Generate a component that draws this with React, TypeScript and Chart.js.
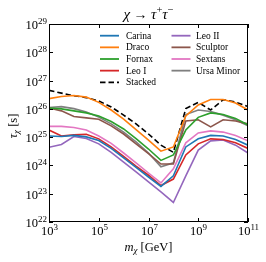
import { useEffect, useRef } from "react";
import { Chart, registerables } from "chart.js";

Chart.register(...registerables);

// Dark-matter mass grid (GeV)
const MASSES = [1e3, 3.16e3, 1e4, 3.16e4, 1e5, 3.16e5, 1e6, 3.16e6, 1e7, 3.16e7, 1e8, 3.16e8, 1e9, 3.16e9, 1e10, 3.16e10, 1e11];

// Lifetime limits tau_chi (s)
const CARINA = [1.1e25, 1.05e25, 1.15e25, 1.02e25, 7.6e24, 4.0e24, 1.86e24, 8.5e23, 3.9e23, 1.82e23, 4.3e23, 4.5e24, 8.7e24, 1.15e25, 1.1e25, 8.3e24, 5.2e24];
const DRACO = [2.3e26, 2.75e26, 2.95e26, 2.6e26, 1.7e26, 9.1e25, 4.3e25, 1.86e25, 7.9e24, 3.2e24, 4.5e24, 5.6e25, 1.38e26, 2.14e26, 2.14e26, 1.62e26, 9.1e25];
const FORNAX = [1.07e26, 1.0e26, 8.5e25, 7.2e25, 5.6e25, 3.55e25, 1.95e25, 8.9e24, 3.8e24, 1.51e24, 2.35e24, 1.78e25, 5.0e25, 7.2e25, 6.3e25, 4.6e25, 2.7e25];
const LEO_I = [1.78e25, 1.1e25, 1.2e25, 1.26e25, 8.7e24, 4.5e24, 2.1e24, 9.5e23, 4.5e23, 1.95e23, 3.3e23, 2.35e24, 5.8e24, 8.7e24, 8.3e24, 6.3e24, 4.0e24];
const LEO_II = [4.4e24, 5.5e24, 1.05e25, 8.9e24, 5.8e24, 2.9e24, 1.32e24, 5.9e23, 2.6e23, 1.15e23, 4.9e22, 4.3e23, 3.5e24, 7.4e24, 7.9e24, 5.2e24, 2.75e24];
const SCULPTOR = [1.07e26, 8.5e25, 5.4e25, 4.8e25, 4.3e25, 2.5e25, 1.29e25, 5.8e24, 2.6e24, 1.12e24, 1.12e24, 3.7e25, 4.1e25, 2.3e25, 4.1e25, 3.7e25, 2.95e25];
const SEXTANS = [2.4e25, 2.4e25, 2.2e25, 1.78e25, 1.1e25, 6.0e24, 2.75e24, 1.23e24, 5.4e23, 2.4e23, 7.6e23, 6.3e24, 1.41e25, 1.66e25, 1.51e25, 1.15e25, 7.4e24];
const URSA_MINOR = [1.12e26, 1.2e26, 1.02e26, 7.8e25, 5.1e25, 2.95e25, 1.51e25, 6.8e24, 2.75e24, 9.0e23, 1.23e24, 6.3e25, 9.1e25, 8.1e25, 6.0e25, 4.1e25, 2.5e25];
const STACKED = [4.5e26, 3.6e26, 2.9e26, 2.5e26, 1.9e26, 1.17e26, 6.0e25, 2.95e25, 1.29e25, 5.2e24, 2.9e24, 1.02e26, 1.7e26, 9.1e25, 2.1e26, 1.74e26, 1.2e26];

const SERIES_NAMES = ["Carina", "Draco", "Fornax", "Leo I", "Leo II", "Sculptor", "Sextans", "Ursa Minor", "Stacked"];
const SERIES_VALUES = [CARINA, DRACO, FORNAX, LEO_I, LEO_II, SCULPTOR, SEXTANS, URSA_MINOR, STACKED];
const SERIES_COLORS = ["#1f77b4", "#ff7f0e", "#2ca02c", "#d62728", "#9467bd", "#8c564b", "#e377c2", "#7f7f7f", "#000000"];

const LEGEND_COL1 = ["Carina", "Draco", "Fornax", "Leo I", "Stacked"];
const LEGEND_COL2 = ["Leo II", "Sculptor", "Sextans", "Ursa Minor"];

const X_TICK_EXPONENTS = [3, 5, 7, 9, 11];
const Y_TICK_EXPONENTS = [22, 23, 24, 25, 26, 27, 28, 29];

const SERIF = '"Liberation Serif", "DejaVu Serif", serif';

type Part = { text: string; size: number; italic?: boolean; dy?: number };

function partsWidth(ctx: CanvasRenderingContext2D, parts: Part[]) {
  let w = 0;
  for (const p of parts) {
    ctx.font = `${p.italic ? "italic " : ""}${p.size}px ${SERIF}`;
    w += ctx.measureText(p.text).width;
  }
  return w;
}

function drawParts(ctx: CanvasRenderingContext2D, parts: Part[], x: number, y: number, align: "left" | "center" | "right") {
  const w = partsWidth(ctx, parts);
  let cx = align === "left" ? x : align === "center" ? x - w / 2 : x - w;
  ctx.textAlign = "left";
  ctx.textBaseline = "alphabetic";
  for (const p of parts) {
    ctx.font = `${p.italic ? "italic " : ""}${p.size}px ${SERIF}`;
    ctx.fillText(p.text, cx, y + (p.dy || 0));
    cx += ctx.measureText(p.text).width;
  }
}

const decorPlugin = {
  id: "decor",
  afterDatasetsDraw(chart: any) {
    const { ctx, chartArea: a, scales } = chart;
    const xs = scales.x;
    const ys = scales.y;
    ctx.save();
    ctx.fillStyle = "#000";
    ctx.strokeStyle = "#000";
    ctx.lineWidth = 1;
    ctx.setLineDash([]);
    // frame
    ctx.strokeRect(a.left + 0.5, a.top + 0.5, a.right - a.left - 1, a.bottom - a.top - 1);
    // y ticks
    for (const e of Y_TICK_EXPONENTS) {
      const py = Math.round(ys.getPixelForValue(Number("1e" + e))) + 0.5;
      ctx.beginPath();
      ctx.moveTo(a.left, py);
      ctx.lineTo(a.left + 4, py);
      ctx.moveTo(a.right, py);
      ctx.lineTo(a.right - 4, py);
      ctx.stroke();
      drawParts(
        ctx,
        [
          { text: "10", size: 12.5 },
          { text: String(e), size: 9, dy: -4.8 },
        ],
        a.left - 2,
        py + 4.2,
        "right"
      );
    }
    // x ticks
    for (const e of X_TICK_EXPONENTS) {
      const px = Math.round(xs.getPixelForValue(Number("1e" + e))) + 0.5;
      ctx.beginPath();
      ctx.moveTo(px, a.bottom);
      ctx.lineTo(px, a.bottom - 4);
      ctx.moveTo(px, a.top);
      ctx.lineTo(px, a.top + 4);
      ctx.stroke();
      drawParts(
        ctx,
        [
          { text: "10", size: 12.5 },
          { text: String(e), size: 9, dy: -4.8 },
        ],
        px,
        a.bottom + 13,
        "center"
      );
    }
    const cxMid = (a.left + a.right) / 2;
    // title
    drawParts(
      ctx,
      [
        { text: "χ", size: 15, italic: true },
        { text: " → ", size: 14 },
        { text: "τ", size: 15, italic: true },
        { text: "+", size: 10.5, dy: -5.5 },
        { text: "τ", size: 15, italic: true },
        { text: "−", size: 10.5, dy: -5.5 },
      ],
      cxMid,
      18.5,
      "center"
    );
    // x axis label
    drawParts(
      ctx,
      [
        { text: "m", size: 12.5, italic: true },
        { text: "χ", size: 9, italic: true, dy: 2.5 },
        { text: " [GeV]", size: 12.5 },
      ],
      cxMid,
      250.5,
      "center"
    );
    // y axis label (rotated)
    ctx.save();
    ctx.translate(16.5, 126);
    ctx.rotate(-Math.PI / 2);
    drawParts(
      ctx,
      [
        { text: "τ", size: 12.5, italic: true },
        { text: "χ", size: 9, italic: true, dy: 2.5 },
        { text: " [s]", size: 12.5 },
      ],
      0,
      0,
      "center"
    );
    ctx.restore();
    // legend
    const rowY0 = 35.7;
    const rowStep = 11.65;
    const cols = [
      { names: LEGEND_COL1, lineX: 100, textX: 126 },
      { names: LEGEND_COL2, lineX: 171.5, textX: 196 },
    ];
    for (const col of cols) {
      col.names.forEach((name, i) => {
        const idx = SERIES_NAMES.indexOf(name);
        const y = rowY0 + i * rowStep;
        ctx.strokeStyle = SERIES_COLORS[idx];
        ctx.lineWidth = 1.8;
        ctx.setLineDash(name === "Stacked" ? [5.5, 3] : []);
        ctx.beginPath();
        ctx.moveTo(col.lineX, y);
        ctx.lineTo(col.lineX + 19, y);
        ctx.stroke();
        ctx.setLineDash([]);
        ctx.fillStyle = "#000";
        ctx.font = `9.5px ${SERIF}`;
        ctx.textAlign = "left";
        ctx.textBaseline = "middle";
        ctx.fillText(name, col.textX, y + 0.5);
      });
    }
    ctx.restore();
  },
};

export default function App() {
  const ref = useRef<HTMLCanvasElement | null>(null);
  useEffect(() => {
    if (!ref.current) return;
    const datasets = SERIES_NAMES.map((name, i) => ({
      label: name,
      data: MASSES.map((m, j) => ({ x: m, y: SERIES_VALUES[i][j] })),
      borderColor: SERIES_COLORS[i],
      backgroundColor: SERIES_COLORS[i],
      borderWidth: 1.6,
      borderDash: name === "Stacked" ? [5.5, 3] : [],
      pointRadius: 0,
      tension: 0,
      fill: false,
    }));
    const chart = new Chart(ref.current, {
      type: "line",
      data: { datasets },
      options: {
        responsive: false,
        animation: false,
        devicePixelRatio: 1,
        layout: { padding: { left: 49, top: 24, right: 18, bottom: 40 } },
        scales: {
          x: { type: "logarithmic", min: 1e3, max: 1e11, display: false },
          y: { type: "logarithmic", min: 1e22, max: 1e29, display: false },
        },
        plugins: {
          legend: { display: false },
          title: { display: false },
          tooltip: { enabled: false },
        },
      },
      plugins: [decorPlugin],
    });
    return () => chart.destroy();
  }, []);
  return (
    <div style={{ position: "fixed", left: 0, top: 0, width: 266, height: 262, background: "#fff" }}>
      <canvas ref={ref} width={266} height={262} style={{ display: "block" }} />
    </div>
  );
}
